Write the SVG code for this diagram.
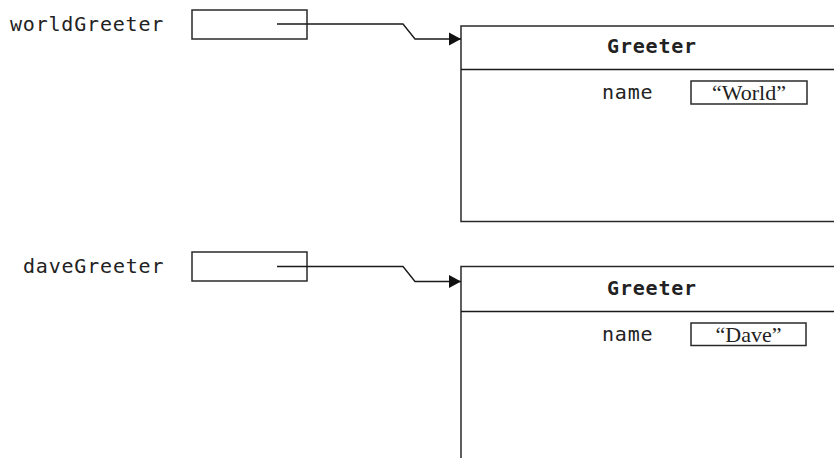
<svg xmlns="http://www.w3.org/2000/svg" width="834" height="458" viewBox="0 0 834 458">
  <defs>
    <style>
      .box { fill: #fff; stroke: #2a2a2a; stroke-width: 1.5; }
      .line { fill: none; stroke: #1a1a1a; stroke-width: 1.4; }
      .mono { font-family: "DejaVu Sans Mono", "Liberation Mono", monospace; font-size: 20px; fill: #222; letter-spacing: 0.8px; }
      .bold { font-weight: bold; }
      .serif { font-family: "Liberation Serif", "Times New Roman", serif; font-size: 22px; fill: #222; }
    </style>
    <marker id="arrow" markerWidth="13" markerHeight="14" refX="12" refY="7" orient="auto" markerUnits="userSpaceOnUse">
      <path d="M0,0.5 L12,7 L0,13.5 Z" fill="#111"/>
    </marker>
  </defs>
  <rect width="834" height="458" fill="#fff"/>

  <g id="worldGreeter">
    <text class="mono" x="10" y="31">worldGreeter</text>
    <rect class="box" x="192" y="10" width="115" height="29"/>
  </g>
  <g id="daveGreeter">
    <text class="mono" x="23" y="273">daveGreeter</text>
    <rect class="box" x="192" y="252" width="115" height="29"/>
  </g>

  <g id="greeter1">
    <rect class="box" x="461" y="26" width="400" height="195.5"/>
    <line class="line" x1="461" y1="69.5" x2="834" y2="69.5"/>
    <text class="mono bold" x="652" y="53" text-anchor="middle">Greeter</text>
    <text class="mono" x="602" y="99">name</text>
    <rect class="box" x="691" y="81" width="116" height="23"/>
    <text class="serif" x="749" y="99.5" text-anchor="middle">“World”</text>
  </g>

  <g id="greeter2">
    <rect class="box" x="461" y="266.5" width="400" height="220"/>
    <line class="line" x1="461" y1="311.5" x2="834" y2="311.5"/>
    <text class="mono bold" x="652" y="295" text-anchor="middle">Greeter</text>
    <text class="mono" x="602" y="341">name</text>
    <rect class="box" x="691" y="323" width="115" height="22.5"/>
    <text class="serif" x="748.5" y="341.5" text-anchor="middle">“Dave”</text>
  </g>

  <g id="connectors">
    <path class="line" d="M277 24 H403 L415 39 H461" marker-end="url(#arrow)"/>
    <path class="line" d="M277 266.5 H403 L415 281.5 H461" marker-end="url(#arrow)"/>
  </g>
</svg>
